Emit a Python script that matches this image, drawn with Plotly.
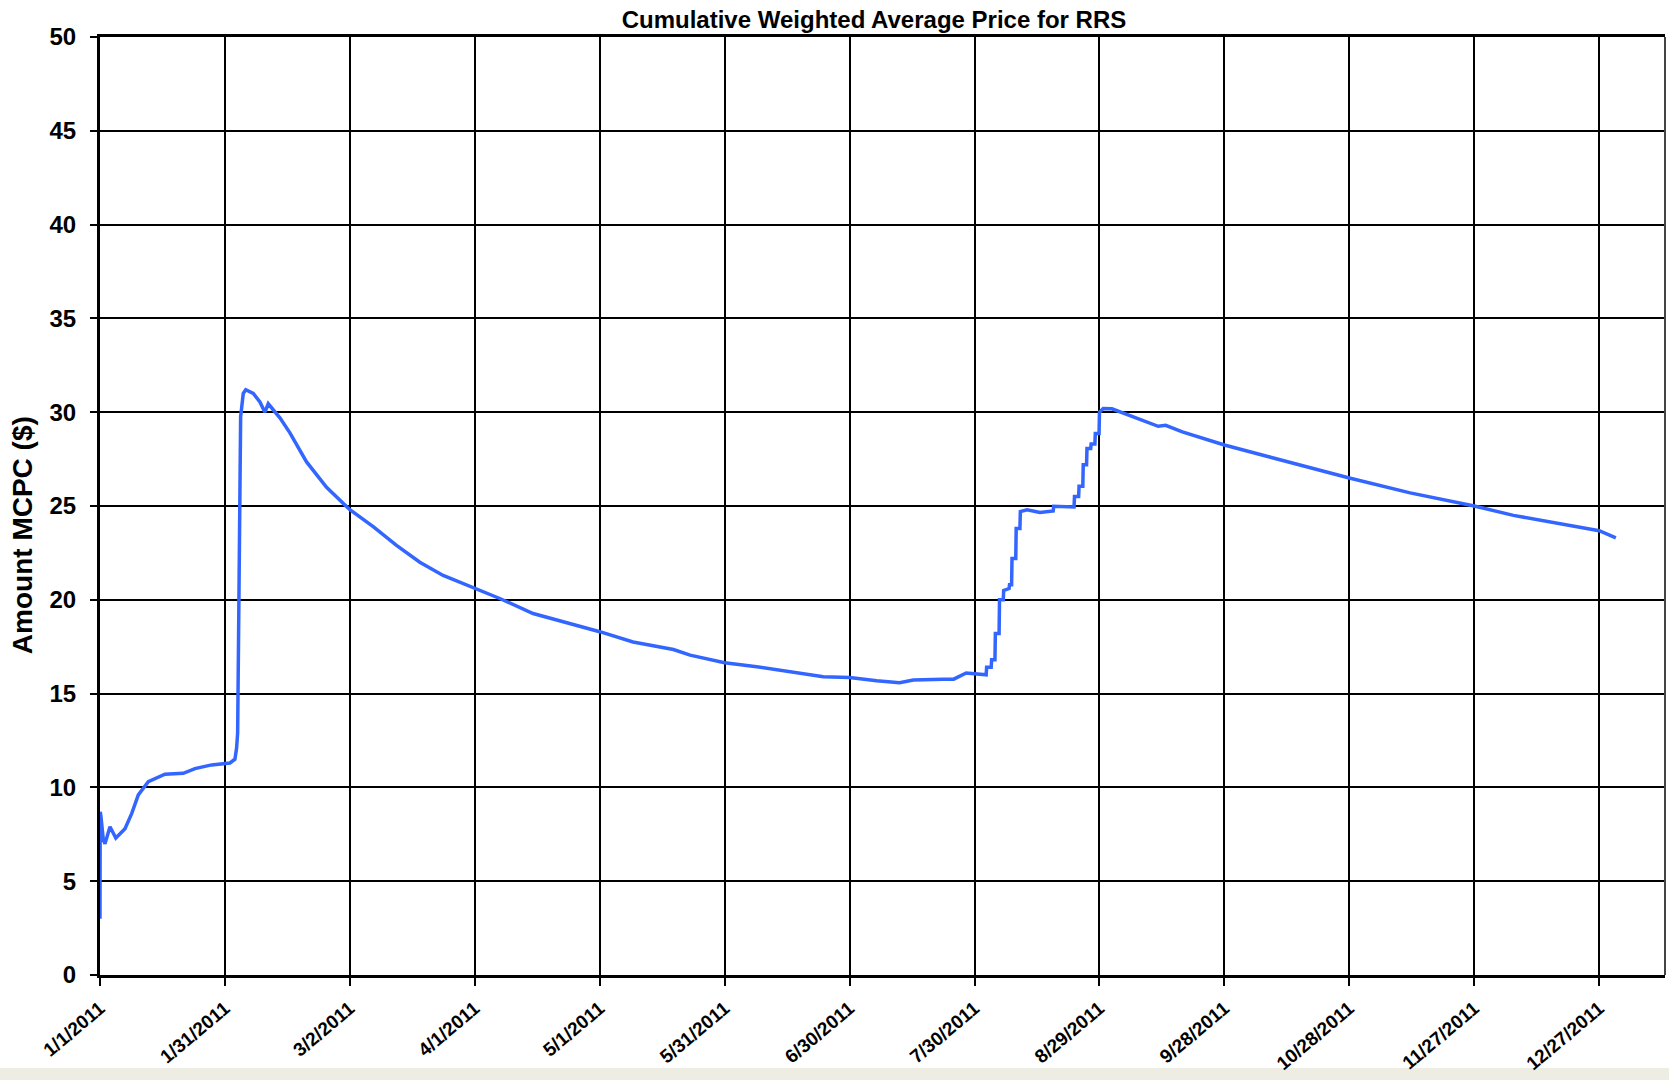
import pandas as pd
import plotly.graph_objects as go

# Days since 1/1/2011 and cumulative weighted average price ($)
days = [0, 0.05, 0.2, 0.8, 1.2, 2.4, 3.8, 6, 7.6, 9.2, 11.6, 15.6, 20, 22.8, 26.8,
        31.2, 32.4, 32.8, 33.05, 33.4, 33.77, 34.4, 35, 36.8, 38.4, 39.6, 40.4,
        43.2, 45.6, 49.6, 54.4, 60, 65.6, 71.2, 76.8, 82.4, 90, 96, 104, 112, 120,
        128, 137.7, 141.7, 150, 157.7, 165.7, 173.7, 180, 186.5, 192, 195.3, 202.5,
        205, 208, 211.7, 212.8, 212.9, 214.0, 214.1, 214.9, 215.0, 215.9, 216.0,
        216.9, 217.0, 218.3, 218.4, 218.9, 219.0, 219.9, 220.0, 220.9, 221.0,
        222.6, 225.7, 228.9, 229.0, 233, 233.9, 234.0, 235.0, 235.1, 236.0, 236.1,
        236.9, 237.0, 237.9, 238.0, 238.9, 239.0, 239.9, 240.0, 240.9, 243, 246.6,
        251, 254.1, 255.9, 259.9, 270, 281.9, 300, 314.6, 330, 339.4, 360, 364]
price = [3.0, 8.7, 8.5, 7.2, 7.0, 7.9, 7.3, 7.8, 8.6, 9.6, 10.3, 10.7, 10.75, 11.0, 11.2,
         11.3, 11.5, 12.1, 12.9, 21.0, 29.75, 31.0, 31.2, 31.0, 30.55, 30.0, 30.45,
         29.7, 28.9, 27.35, 26.0, 24.8, 23.9, 22.9, 22.0, 21.3, 20.6, 20.07, 19.27, 18.8, 18.3,
         17.75, 17.35, 17.05, 16.65, 16.43, 16.16, 15.9, 15.86, 15.68, 15.58, 15.72, 15.77,
         15.77, 16.1, 16.0, 16.0, 16.4, 16.4, 16.8, 16.8, 18.2, 18.2, 20.0,
         20.0, 20.5, 20.6, 20.8, 20.8, 22.2, 22.2, 23.8, 23.8, 24.7,
         24.8, 24.65, 24.74, 24.99, 24.95, 24.95, 25.5, 25.5, 26.05, 26.05, 27.2,
         27.2, 28.06, 28.06, 28.3, 28.3, 28.86, 28.86, 30.0, 30.2, 30.18, 29.88,
         29.47, 29.25, 29.3, 28.95, 28.25, 27.54, 26.49, 25.7, 25.0, 24.5, 23.68, 23.3]

tick_days = [0, 30, 60, 90, 120, 150, 180, 210, 240, 270, 300, 330, 360]
tick_labels = ["1/1/2011", "1/31/2011", "3/2/2011", "4/1/2011", "5/1/2011",
               "5/31/2011", "6/30/2011", "7/30/2011", "8/29/2011", "9/28/2011",
               "10/28/2011", "11/27/2011", "12/27/2011"]
y_ticks = [0, 5, 10, 15, 20, 25, 30, 35, 40, 45, 50]

start = pd.Timestamp("2011-01-01")
x_dates = start + pd.to_timedelta(days, unit="D")
tick_dates = start + pd.to_timedelta(tick_days, unit="D")
x_end = start + pd.to_timedelta(375.8, unit="D")

SANS = "Liberation Sans, Arial, sans-serif"

fig = go.Figure()
fig.add_trace(go.Scatter(x=x_dates, y=price, mode="lines",
                         line=dict(color="#3366ff", width=3.5), showlegend=False))

fig.update_layout(
    width=1669, height=1080, autosize=False,
    margin=dict(l=100, r=4, t=37, b=105, autoexpand=False),
    paper_bgcolor="white", plot_bgcolor="white",
    title=dict(text="<b>Cumulative Weighted Average Price for RRS</b>",
               xref="container", x=874 / 1669, xanchor="center",
               yref="container", y=1 - 20 / 1080, yanchor="middle",
               font=dict(family=SANS, size=24, color="black")),
    xaxis=dict(range=[start, x_end], tickmode="array", tickvals=tick_dates,
               ticktext=["<b>%s</b>" % t for t in tick_labels], tickangle=-40,
               tickfont=dict(family=SANS, size=19, color="black"),
               showgrid=True, gridcolor="black", gridwidth=1.5,
               showline=True, linecolor="black", linewidth=3, mirror=True,
               ticks="outside", ticklen=8, tickcolor="black", tickwidth=2,
               ticklabelstandoff=4, zeroline=False, automargin=False),
    yaxis=dict(range=[0, 50], tickmode="array", tickvals=y_ticks,
               ticktext=["<b>%d</b>" % v for v in y_ticks],
               tickfont=dict(family=SANS, size=24, color="black"),
               showgrid=True, gridcolor="black", gridwidth=1.5,
               showline=True, linecolor="black", linewidth=3,
               ticks="outside", ticklen=7, tickcolor="black", tickwidth=2,
               ticklabelstandoff=9, zeroline=False, automargin=False),
    annotations=[dict(text="<b>Amount MCPC ($)</b>", textangle=-90,
                      xref="paper", yref="paper", x=-0.0498, y=0.469,
                      xanchor="center", yanchor="middle", showarrow=False,
                      font=dict(family=SANS, size=28, color="black"))],
    shapes=[
        dict(type="line", xref="paper", yref="paper", x0=1, x1=1, y0=0, y1=1,
             line=dict(color="#444444", width=2)),
        dict(type="rect", xref="paper", yref="paper", x0=-0.07, x1=1.003,
             y0=-(1068 - 975) / 938, y1=-(1080 - 975) / 938,
             fillcolor="#ededE4", line=dict(width=0), layer="below"),
    ],
)

fig.write_html("out.html", config={"displayModeBar": False},
               post_script="document.body.style.margin='0';")
